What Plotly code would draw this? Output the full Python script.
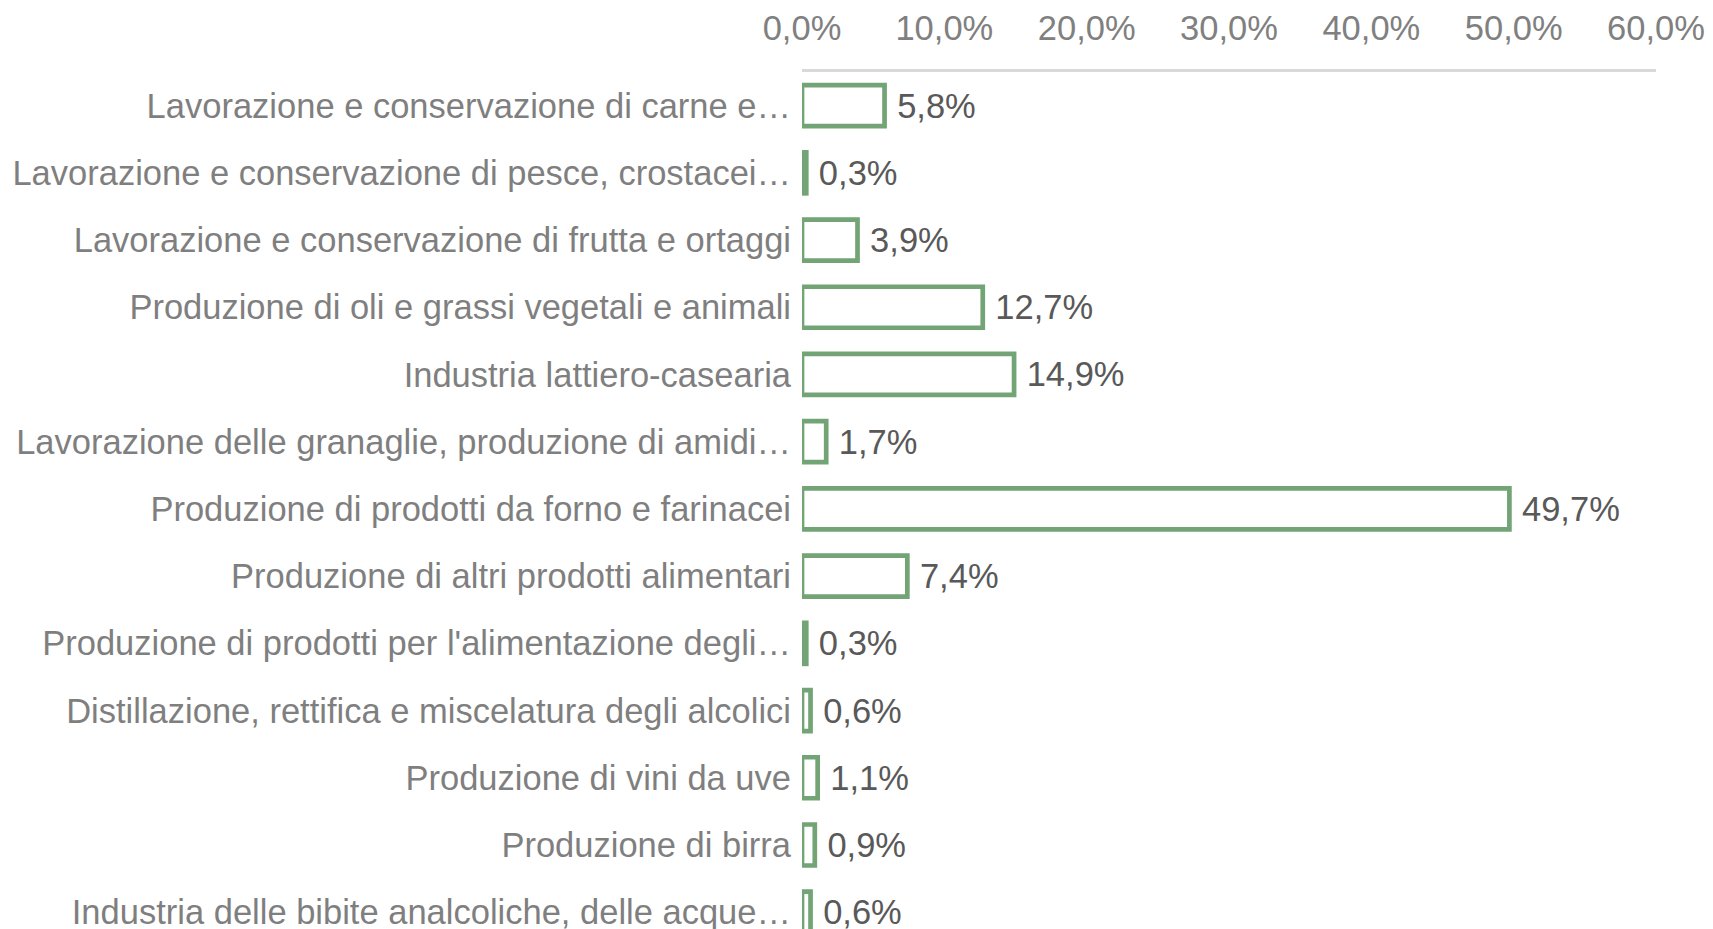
import plotly.graph_objects as go

categories = [
    "Lavorazione e conservazione di carne e…",
    "Lavorazione e conservazione di pesce, crostacei…",
    "Lavorazione e conservazione di frutta e ortaggi",
    "Produzione di oli e grassi vegetali e animali",
    "Industria lattiero-casearia",
    "Lavorazione delle granaglie, produzione di amidi…",
    "Produzione di prodotti da forno e farinacei",
    "Produzione di altri prodotti alimentari",
    "Produzione di prodotti per l'alimentazione degli…",
    "Distillazione, rettifica e miscelatura degli alcolici",
    "Produzione di vini da uve",
    "Produzione di birra",
    "Industria delle bibite analcoliche, delle acque…",
]
values = [5.8, 0.3, 3.9, 12.7, 14.9, 1.7, 49.7, 7.4, 0.3, 0.6, 1.1, 0.9, 0.6]
x_ticks = [0, 10, 20, 30, 40, 50, 60]
x_tick_labels = ["0,0%", "10,0%", "20,0%", "30,0%", "40,0%", "50,0%", "60,0%"]

FONT = "Liberation Sans, Arial, sans-serif"
GREEN = "#72a476"

fig = go.Figure(
    go.Bar(
        x=values,
        y=categories,
        orientation="h",
        marker=dict(color="white", line=dict(color=GREEN, width=4.7)),
        texttemplate="\u00a0%{x:.1f}%",
        textposition="outside",
        textfont=dict(family=FONT, size=34.5, color="#595959"),
        cliponaxis=True,
    )
)

fig.update_layout(
    width=1705,
    height=921,
    margin=dict(l=794, r=57, t=64, b=0, pad=0, autoexpand=False),
    plot_bgcolor="white",
    paper_bgcolor="white",
    separators=",.",
    bargap=0.39,
    showlegend=False,
    font=dict(family=FONT, size=34.5, color="#7f7f7f"),
)
fig.update_xaxes(
    side="top",
    range=[0, 60],
    tickmode="array",
    tickvals=x_ticks,
    ticktext=x_tick_labels,
    showgrid=False,
    zeroline=False,
    showline=True,
    linecolor="#d9d9d9",
    linewidth=2.5,
    ticks="outside",
    ticklen=15,
    tickcolor="rgba(0,0,0,0)",
    tickfont=dict(family=FONT, size=34.5, color="#808080"),
    automargin=False,
)
fig.update_yaxes(
    type="category",
    categoryorder="array",
    categoryarray=categories,
    range=[12.25, -0.5],
    showgrid=False,
    zeroline=False,
    showline=False,
    ticks="",
    ticklabelstandoff=10,
    tickfont=dict(family=FONT, size=34.5, color="#7f7f7f"),
    automargin=False,
)

fig.write_html("out.html")
